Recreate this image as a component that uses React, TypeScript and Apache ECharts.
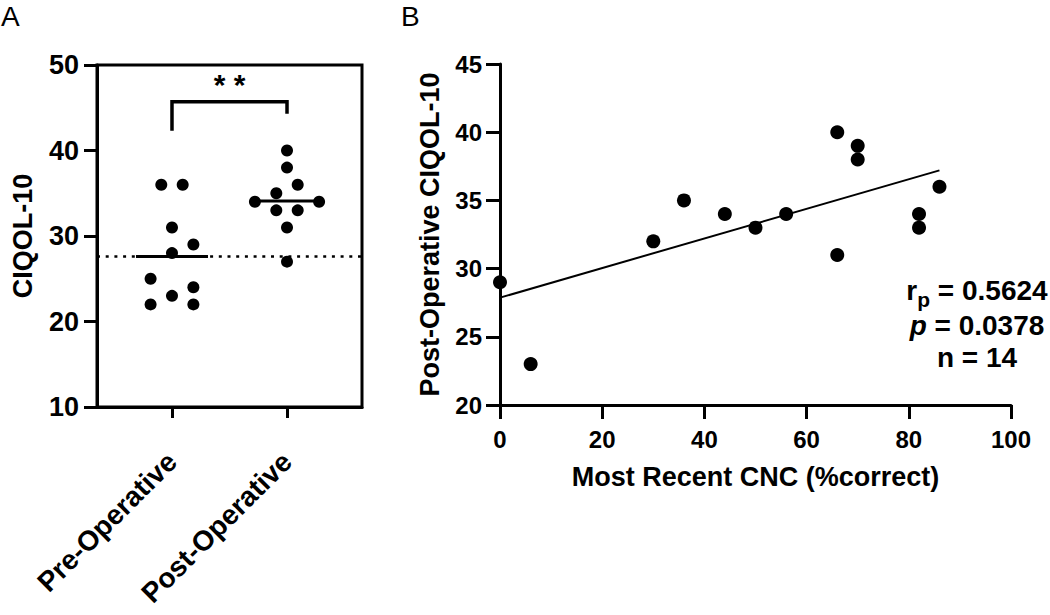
import React, { useEffect, useRef } from "react";
import * as echarts from "echarts";

// Panel A data
const groupNames = ["Pre-Operative", "Post-Operative"];
const preValues = [36, 36, 31, 29, 28, 25, 24, 23, 22, 22];
const preSlots = [-1, 1, 0, 2, 0, -2, 2, 0, -2, 2];
const postValues = [40, 38, 36, 35, 34, 34, 33, 33, 31, 27];
const postSlots = [0, 0, 1, -1, -3, 3, -1, 1, 0, 0];
const groupMeans = [27.6, 34.1];
const bracket = [
  [0, 42.3],
  [0, 45.7],
  [1, 45.7],
  [1, 44.3],
];
const sigLabel = "* *";
const sigLabelY = 47.7;
const aTicksY = [10, 50, 10];

// Panel B data
const cncX = [0, 6, 30, 36, 44, 50, 56, 66, 66, 70, 70, 82, 82, 86];
const qolY = [29, 23, 32, 35, 34, 33, 34, 40, 31, 39, 38, 34, 33, 36];
const fitLine = [
  [0, 27.87],
  [86, 37.2],
];
const statsText = ["0.5624", "0.0378", "14"];

const FONT = "'Liberation Sans', Arial, Helvetica, sans-serif";
const SLOT = 0.093;

export default function App() {
  const ref = useRef<HTMLDivElement>(null);
  useEffect(() => {
    if (!ref.current) return;
    const chart = echarts.init(ref.current, null, { renderer: "svg" });
    const preData = preValues.map((v, i) => [0 + preSlots[i] * SLOT, v]);
    const postData = postValues.map((v, i) => [1 + postSlots[i] * SLOT, v]);
    const meanHalf = [0.313, 0.287];
    const axisLine = { show: true, onZero: false, lineStyle: { color: "#000", width: 3 } };
    const option: any = {
      animation: false,
      backgroundColor: "#fff",
      textStyle: { fontFamily: FONT },
      grid: [
        {
          left: 97,
          top: 65,
          width: 265,
          height: 342,
          show: true,
          borderColor: "#000",
          borderWidth: 3,
          backgroundColor: "transparent",
        },
        { left: 500, top: 64, width: 511, height: 341 },
      ],
      xAxis: [
        {
          gridIndex: 0,
          type: "value",
          min: -0.652,
          max: 1.652,
          axisLine,
          splitLine: { show: false },
          axisTick: {
            show: true,
            customValues: [0, 1],
            length: 11,
            lineStyle: { color: "#000", width: 3 },
          },
          axisLabel: {
            customValues: [0, 1],
            formatter: (v: number) => groupNames[Math.round(v)] ?? "",
            rotate: 45,
            margin: 50,
            fontSize: 28,
            fontWeight: "bold",
            color: "#000",
            fontFamily: FONT,
          },
        },
        {
          gridIndex: 1,
          type: "value",
          min: 0,
          max: 100,
          interval: 20,
          axisLine,
          splitLine: { show: false },
          axisTick: { show: true, length: 14, lineStyle: { color: "#000", width: 3 } },
          axisLabel: {
            margin: 22,
            fontSize: 24,
            fontWeight: "bold",
            color: "#000",
            fontFamily: FONT,
          },
          name: "Most Recent CNC (%correct)",
          nameLocation: "middle",
          nameGap: 58,
          nameTextStyle: { fontSize: 27, fontWeight: "bold", color: "#000", fontFamily: FONT },
        },
      ],
      yAxis: [
        {
          gridIndex: 0,
          type: "value",
          min: aTicksY[0],
          max: aTicksY[1],
          interval: aTicksY[2],
          axisLine,
          splitLine: { show: false },
          axisTick: { show: true, length: 13, lineStyle: { color: "#000", width: 3 } },
          axisLabel: {
            margin: 18,
            fontSize: 27,
            fontWeight: "bold",
            color: "#000",
            fontFamily: FONT,
          },
          name: "CIQOL-10",
          nameLocation: "middle",
          nameGap: 61,
          nameTextStyle: { fontSize: 27, fontWeight: "bold", color: "#000", fontFamily: FONT },
        },
        {
          gridIndex: 1,
          type: "value",
          min: 20,
          max: 45,
          interval: 5,
          axisLine,
          splitLine: { show: false },
          axisTick: { show: true, length: 14, lineStyle: { color: "#000", width: 3 } },
          axisLabel: {
            margin: 18,
            fontSize: 24,
            fontWeight: "bold",
            color: "#000",
            fontFamily: FONT,
          },
          name: "Post-Operative CIQOL-10",
          nameLocation: "middle",
          nameGap: 57,
          nameTextStyle: { fontSize: 27, fontWeight: "bold", color: "#000", fontFamily: FONT },
        },
      ],
      series: [
        {
          type: "line",
          xAxisIndex: 0,
          yAxisIndex: 0,
          data: [
            [-0.652, groupMeans[0]],
            [1.652, groupMeans[0]],
          ],
          symbol: "none",
          lineStyle: { color: "#000", width: 2.5, type: [3, 5.7] },
          silent: true,
          z: 1,
        },
        ...groupMeans.map((m, i) => ({
          type: "line",
          xAxisIndex: 0,
          yAxisIndex: 0,
          data: [
            [i - meanHalf[i], m],
            [i + meanHalf[i], m],
          ],
          symbol: "none",
          lineStyle: { color: "#000", width: 3 },
          silent: true,
          z: 3,
        })),
        {
          type: "scatter",
          xAxisIndex: 0,
          yAxisIndex: 0,
          data: [...preData, ...postData],
          symbol: "circle",
          symbolSize: 12,
          itemStyle: { color: "#000", opacity: 1 },
          z: 4,
        },
        {
          type: "line",
          xAxisIndex: 0,
          yAxisIndex: 0,
          data: bracket,
          symbol: "none",
          lineStyle: { color: "#000", width: 3.5, cap: "butt", join: "miter" },
          silent: true,
        },
        {
          type: "scatter",
          xAxisIndex: 0,
          yAxisIndex: 0,
          data: [[0.5, sigLabelY]],
          symbolSize: 0,
          itemStyle: { opacity: 1 },
          label: {
            show: true,
            position: "inside",
            formatter: sigLabel,
            fontSize: 30,
            fontWeight: "bold",
            color: "#000",
            opacity: 1,
            fontFamily: FONT,
          },
          silent: true,
        },
        {
          type: "line",
          xAxisIndex: 1,
          yAxisIndex: 1,
          data: fitLine,
          symbol: "none",
          lineStyle: { color: "#000", width: 2 },
          silent: true,
          z: 2,
        },
        {
          type: "scatter",
          xAxisIndex: 1,
          yAxisIndex: 1,
          data: cncX.map((x, i) => [x, qolY[i]]),
          symbol: "circle",
          symbolSize: 14,
          itemStyle: { color: "#000", opacity: 1 },
          clip: false,
          z: 4,
        },
      ],
      graphic: [
        {
          type: "text",
          left: 1,
          top: 2,
          style: { text: "A", fontSize: 28, fontFamily: FONT, fill: "#000" },
        },
        {
          type: "text",
          left: 401,
          top: 2,
          style: { text: "B", fontSize: 28, fontFamily: FONT, fill: "#000" },
        },
        {
          type: "text",
          x: 977,
          y: 290,
          style: {
            text: "{b|r}{s|p}{b| = " + statsText[0] + "}",
            align: "center",
            verticalAlign: "middle",
            fill: "#000",
            rich: {
              b: { fontSize: 28, fontWeight: "bold", fontFamily: FONT, fill: "#000" },
              s: {
                fontSize: 21,
                fontWeight: "bold",
                fontFamily: FONT,
                fill: "#000",
                padding: [18, 0, 0, 0],
              },
            },
          },
        },
        {
          type: "text",
          x: 977,
          y: 325,
          style: {
            text: "{i|p}{b| = " + statsText[1] + "}",
            align: "center",
            verticalAlign: "middle",
            fill: "#000",
            rich: {
              b: { fontSize: 28, fontWeight: "bold", fontFamily: FONT, fill: "#000" },
              i: {
                fontSize: 28,
                fontWeight: "bold",
                fontStyle: "italic",
                fontFamily: FONT,
                fill: "#000",
              },
            },
          },
        },
        {
          type: "text",
          x: 977,
          y: 357,
          style: {
            text: "n = " + statsText[2],
            align: "center",
            verticalAlign: "middle",
            fontSize: 28,
            fontWeight: "bold",
            fontFamily: FONT,
            fill: "#000",
          },
        },
      ],
    };
    chart.setOption(option);
    return () => chart.dispose();
  }, []);
  return (
    <div
      ref={ref}
      style={{ position: "fixed", left: 0, top: 0, width: 1050, height: 615, background: "#fff" }}
    />
  );
}
